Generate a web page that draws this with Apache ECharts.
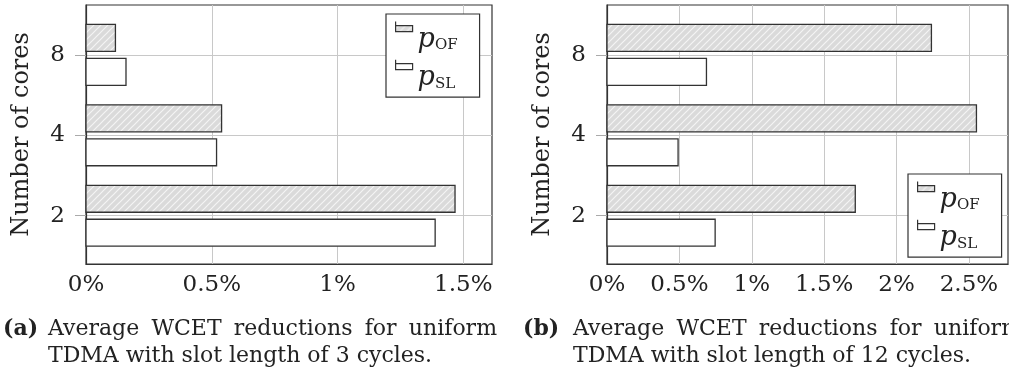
<!DOCTYPE html>
<html><head><meta charset="utf-8">
<script src="https://cdn.jsdelivr.net/npm/echarts@6/dist/echarts.min.js"></script>
<style>html,body{margin:0;padding:0;background:#fff}#c{width:1009px;height:379px}</style>
</head><body><div id="c"></div>
<script>
// ---- data ----
const categories = ['2', '4', '8'];
const seriesNames = ['pOF', 'pSL'];
const ofA = [1.467, 0.539, 0.117];
const slA = [1.388, 0.519, 0.159];
const ofB = [1.715, 2.552, 2.241];
const slB = [0.747, 0.491, 0.687];
const xTicksA = [0, 0.5, 1, 1.5];
const xTicksB = [0, 0.5, 1, 1.5, 2, 2.5];
const xMaxA = 1.614;
const xMaxB = 2.77;
const yTicks = [0, 1, 2];
const yName = 'Number of cores';
const capTagA = '(a)';
const capTagB = '(b)';
const capLine1 = ['Average', 'WCET', 'reductions', 'for', 'uniform'];
const capLine2A = 'TDMA with slot length of 3 cycles.';
const capLine2B = 'TDMA with slot length of 12 cycles.';

// ---- styling ----
const SERIF = '"DejaVu Serif"';
const TXT = '#222';
const DARK = '#333';
const GRIDC = '#c8c8c8';
const BAR_H = 0.335, GAP = 0.087;

function hatch() {
  const c = document.createElement('canvas'); c.width = 7; c.height = 7;
  const g = c.getContext('2d');
  g.fillStyle = '#dadada'; g.fillRect(0, 0, 7, 7);
  g.strokeStyle = '#f4f4f4'; g.lineWidth = 1.2;
  g.beginPath();
  g.moveTo(-1, 8); g.lineTo(8, -1);
  g.moveTo(-1, 1); g.lineTo(1, -1);
  g.moveTo(6, 8); g.lineTo(8, 6);
  g.stroke();
  return c;
}
const HATCH = { image: hatch(), repeat: 'repeat' };
const fills = { pOF: HATCH, pSL: '#ffffff' };
const offsets = { pOF: GAP / 2 + BAR_H / 2, pSL: -(GAP / 2 + BAR_H / 2) };

function renderer(off) {
  return function (params, api) {
    const v = api.value(0), c = api.value(1);
    const p0 = api.coord([0, c + off + BAR_H / 2]);
    const p1 = api.coord([v, c + off - BAR_H / 2]);
    return {
      type: 'rect',
      shape: { x: p0[0], y: p0[1], width: p1[0] - p0[0], height: p1[1] - p0[1] },
      style: api.style()
    };
  };
}

function mkSeries(name, vals, idx) {
  return {
    type: 'custom', name: name, xAxisIndex: idx, yAxisIndex: idx,
    renderItem: renderer(offsets[name]),
    itemStyle: { color: fills[name], borderColor: DARK, borderWidth: 1.3 },
    encode: { x: 0, y: 1 },
    data: vals.map((v, i) => [v, i])
  };
}

function mkX(idx, max, ticks) {
  return {
    type: 'value', gridIndex: idx, min: 0, max: max,
    axisLine: { show: true, onZero: false, lineStyle: { color: DARK, width: 1.2 } },
    axisTick: { show: false, customValues: ticks },
    splitLine: { show: true, lineStyle: { color: GRIDC, width: 1 } },
    axisLabel: { customValues: ticks, margin: 10, fontFamily: SERIF, fontSize: 23, color: TXT,
      formatter: v => v + '%' }
  };
}
function mkY(idx) {
  return {
    type: 'value', gridIndex: idx, min: -0.6, max: 2.62,
    name: yName, nameLocation: 'middle', nameGap: 52,
    nameTextStyle: { fontFamily: SERIF, fontSize: 24, color: TXT },
    axisLine: { show: true, onZero: false, lineStyle: { color: DARK, width: 1.2 } },
    axisTick: { show: true, length: 11, customValues: yTicks, lineStyle: { color: '#aaa', width: 1 } },
    splitLine: { show: true, lineStyle: { color: GRIDC, width: 1 } },
    axisLabel: { customValues: yTicks, margin: 21, fontFamily: SERIF, fontSize: 23, color: TXT,
      formatter: v => categories[Math.round(v)] }
  };
}

const ICON = 'path://M0,0L0,4M0,4L17,4L17,10L0,10ZM17,30L17,30';
function mkLegend(left, top) {
  return {
    orient: 'vertical', left: left, top: top, padding: [7, 22, 6, 9], itemGap: 6,
    itemWidth: 17, itemHeight: 30, icon: ICON, selectedMode: false,
    borderColor: DARK, borderWidth: 1.2, backgroundColor: '#fff',
    itemStyle: { borderColor: DARK, borderWidth: 1.2 },
    data: seriesNames.map(n => ({ name: n, itemStyle: { color: fills[n], borderColor: DARK, borderWidth: 1.2 } })),
    formatter: n => '{p|p}{s|' + n.slice(1) + '}',
    textStyle: {
      rich: {
        p: { fontFamily: SERIF, fontStyle: 'italic', fontSize: 27, color: TXT, padding: [6, 0, 0, 0] },
        s: { fontFamily: SERIF, fontSize: 15, color: TXT, verticalAlign: 'bottom' }
      }
    }
  };
}

// ---- caption layout ----
const CAP_FONT = '22px ' + SERIF;
const CAP_BOLD = 'bold 22px ' + SERIF;
const mctx = document.createElement('canvas').getContext('2d');
function caption(tagX, left, right, tag, line2) {
  mctx.font = CAP_FONT;
  const widths = capLine1.map(w => mctx.measureText(w).width);
  const total = widths.reduce((a, b) => a + b, 0);
  const gap = (right - left - total) / (capLine1.length - 1);
  const els = [{ type: 'text', x: tagX, y: 329, style: { text: tag, font: CAP_BOLD, fill: TXT, verticalAlign: 'middle' } }];
  let x = left;
  capLine1.forEach((w, i) => {
    els.push({ type: 'text', x: x, y: 329, style: { text: w, font: CAP_FONT, fill: TXT, verticalAlign: 'middle' } });
    x += widths[i] + gap;
  });
  els.push({ type: 'text', x: left, y: 356, style: { text: line2, font: CAP_FONT, fill: TXT, verticalAlign: 'middle' } });
  return els;
}

const chart = echarts.init(document.getElementById('c'), null, { renderer: 'canvas' });
chart.setOption({
  animation: false,
  backgroundColor: '#fff',
  grid: [
    { left: 86, top: 5, width: 406, height: 259, show: true, borderColor: DARK, borderWidth: 1.2, backgroundColor: 'transparent' },
    { left: 607, top: 5, width: 401, height: 259, show: true, borderColor: DARK, borderWidth: 1.2, backgroundColor: 'transparent' }
  ],
  xAxis: [mkX(0, xMaxA, xTicksA), mkX(1, xMaxB, xTicksB)],
  yAxis: [mkY(0), mkY(1)],
  legend: [mkLegend(386, 14), mkLegend(908, 174)],
  series: [
    mkSeries('pOF', ofA, 0), mkSeries('pSL', slA, 0),
    mkSeries('pOF', ofB, 1), mkSeries('pSL', slB, 1)
  ],
  graphic: caption(3, 48, 497, capTagA, capLine2A).concat(caption(523, 573, 1022, capTagB, capLine2B))
});
</script>
</body></html>
